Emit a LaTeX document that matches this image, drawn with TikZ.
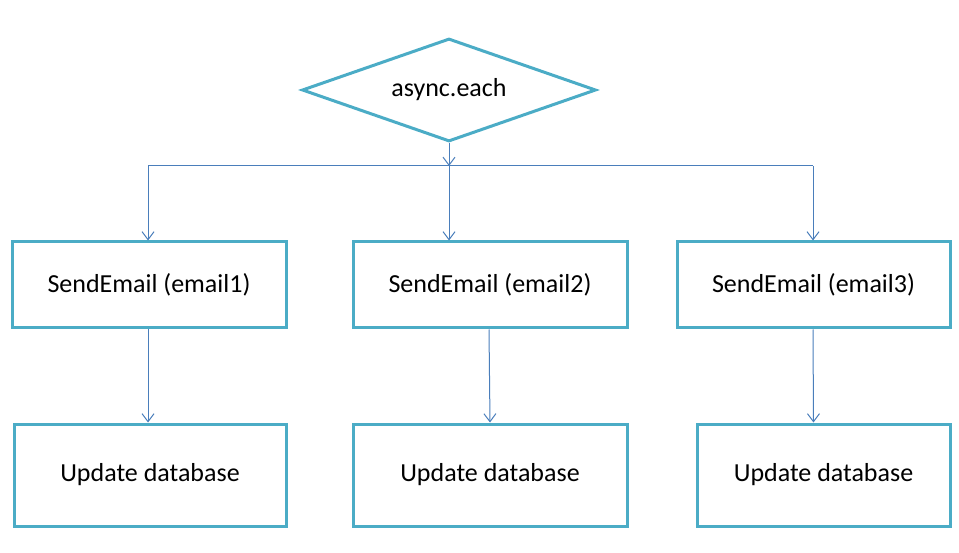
\documentclass[tikz,border=0pt]{standalone}
\usepackage{fontspec}
\setmainfont{Carlito}
\usepackage{tikz}
\usetikzlibrary{shapes.geometric}
\usetikzlibrary{arrows.meta}
\usetikzlibrary{positioning}

\definecolor{boxline}{RGB}{75,172,198}
\definecolor{flowline}{RGB}{74,126,187}

\tikzset{
  stepbox/.style={draw=boxline, line width=3pt, fill=white,
    inner sep=0pt, font=\fontsize{26}{30}\selectfont},
  flow/.style={draw=flowline, line width=1pt,
    -{Straight Barb[length=8pt,width=12pt,line width=1pt]}},
}

\begin{document}
\begin{tikzpicture}
      [x=1pt, y=-1pt]
      \useasboundingbox (0, 0) rectangle (959, 553);

      \node (fork) [stepbox, diamond, aspect=2.85, minimum width=294pt, minimum height=103pt] at (449, 90) {async.each};

      \node (send1) [stepbox, minimum width=274pt, minimum height=86pt] at (149, 285) {SendEmail (email1)};
      \node (send2) [stepbox, minimum width=274pt, minimum height=86pt] at (490, 285) {SendEmail (email2)};
      \node (send3) [stepbox, minimum width=273pt, minimum height=86pt] at (813.5, 285) {SendEmail (email3)};

      \node (upd1) [stepbox, minimum width=272pt, minimum height=102pt] at (150, 475) {Update database};
      \node (upd2) [stepbox, minimum width=274pt, minimum height=102pt] at (490, 475) {Update database};
      \node (upd3) [stepbox, minimum width=253pt, minimum height=102pt] at (823.5, 475) {Update database};

      \coordinate (split) at (449, 166);
      \coordinate (left) at (148, 166);
      \coordinate (right) at (813, 166);

      \draw [flow] (fork.south) -- (split);
      \draw [draw=flowline, line width=1pt] (left) -- (right);
      \draw [flow] (left) -- (left |- send1.north);
      \draw [flow] (split) -- (split |- send2.north);
      \draw [flow] (right) -- (right |- send3.north);

      \draw [flow] ([xshift=-1pt]send1.south) -- ([xshift=-2pt]upd1.north);
      \draw [flow] ([xshift=-1pt]send2.south) -- (upd2.north);
      \draw [flow] ([xshift=-0.5pt]send3.south) -- (upd3.north -| send3.south);

    \end{tikzpicture}
\end{document}
